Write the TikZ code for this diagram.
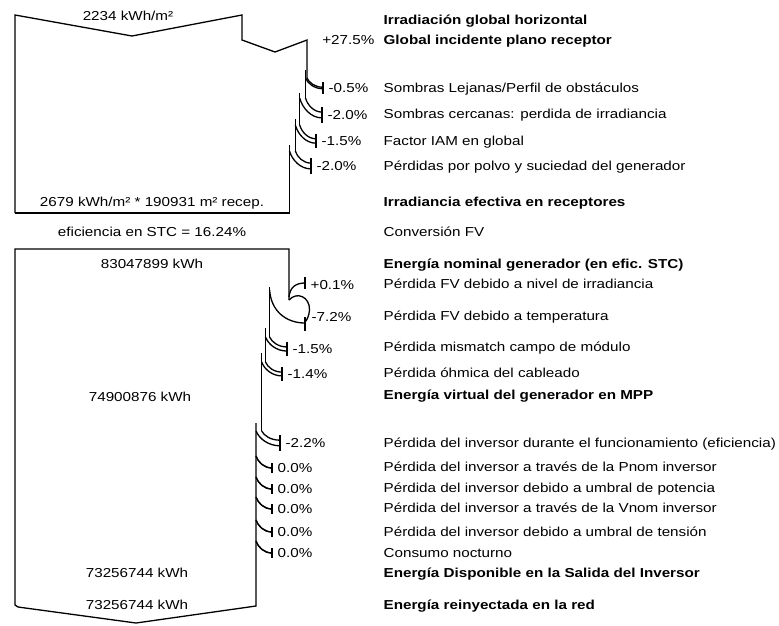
\documentclass[tikz,border=0pt]{standalone}
\usepackage{fontspec}
\setmainfont{Liberation Sans}[FakeStretch=1.17]
\begin{document}
% loss band: old edge x, band width, start y, end x, end y
\newcommand\lossarc[5]{%
  \draw (#1,#3) .. controls ({#1+0.12*(#4-#1)},{#3+0.5*(#5-#2/2-#3)}) and ({#1+0.5*(#4-#1)},{#5-#2/2}) .. (#4,{#5-#2/2});
  \draw ({#1-#2},#3) .. controls ({#1-#2+0.12*(#4-#1+#2)},{#3+0.5*(#5+#2/2-#3)}) and ({#1-#2+0.5*(#4-#1+#2)},{#5+#2/2}) .. (#4,{#5+#2/2});
  \draw (#4,{#5-#2/2-5}) -- (#4,{#5+#2/2+5});
}
\begin{tikzpicture}[x=1pt,y=-1pt,line width=1.3pt,line join=miter,
  txt/.style={inner sep=0pt,text height=9.3pt,text depth=0pt,font=\fontsize{13}{15}\selectfont},
  lbl/.style={txt,anchor=west},
  blbl/.style={txt,anchor=west,font=\fontsize{13}{15}\selectfont\bfseries},
  val/.style={txt,anchor=center},
  pct/.style={txt,anchor=west}]
\useasboundingbox (0,0) rectangle (779,625);

% ---- irradiance section ----
\draw (15,213) -- (15,15) -- (132,36) -- (242,15) -- (242,40) -- (275,52) -- (307,40) -- (307,78);
\draw (305.5,70) -- (305.5,98);
\draw (299.7,93) -- (299.7,125);
\draw (295.3,119) -- (295.3,151);
\draw (289.5,145) -- (289.5,213) -- (15,213);
\lossarc{307}{1.5}{78}{323}{88}
\lossarc{305.5}{5.8}{98}{322}{115}
\lossarc{299.7}{4.4}{125}{316}{141}
\lossarc{295.3}{5.8}{151}{311}{166}

% ---- energy section ----
\draw (289,300) -- (289,249) -- (15,249) -- (15,605) -- (18,607) -- (136,623) -- (256,606) -- (256,423);
% gain from irradiance level
\draw (289,297) .. controls (290,287) and (296,283) .. (305,283);
\draw (305,277) -- (305,289);
% temperature loss
\draw (289,300) .. controls (297,291) and (310,297) .. (309.5,310) .. controls (309,316) and (307,320) .. (305,322);
\draw (269.6,290) .. controls (271,311) and (286,323) .. (305,323);
\draw (305,317) -- (305,331);
\draw (269.6,287) -- (269.6,337);
\draw (265.5,328) -- (265.5,362);
\draw (261.7,353) -- (261.7,431);
\lossarc{269.6}{4.1}{337}{287}{349}
\lossarc{265.5}{3.8}{362}{282}{374}
\lossarc{261.7}{5.6}{431}{280}{443}
\lossarc{256}{0}{456}{272}{468}
\lossarc{256}{0}{477}{272}{489}
\lossarc{256}{0}{497}{272}{509}
\lossarc{256}{0}{520}{272}{532}
\lossarc{256}{0}{541}{272}{553}

% ---- values in the flow ----
\node[val] (v1) at (128,16) {2234 kWh/m²};
\node[val] (v2) at (152,202) {2679 kWh/m² * 190931 m² recep.};
\node[val] (v3) at (152,232) {eficiencia en STC = 16.24\%};
\node[val] (v4) at (152,264) {83047899 kWh};
\node[val] (v5) at (140,397) {74900876 kWh};
\node[val] (v6) at (137,573) {73256744 kWh};
\node[val] (v7) at (137,605) {73256744 kWh};

% ---- percentages ----
\node[txt,anchor=east] (p0) at (375,40) {+27.5\%};
\node[pct] (p1) at (328,88) {-0.5\%};
\node[pct] (p2) at (327,115) {-2.0\%};
\node[pct] (p3) at (321,141) {-1.5\%};
\node[pct] (p4) at (316,166) {-2.0\%};
\node[pct] (p5) at (310,285) {+0.1\%};
\node[pct] (p6) at (311,317) {-7.2\%};
\node[pct] (p7) at (292,349) {-1.5\%};
\node[pct] (p8) at (287,374) {-1.4\%};
\node[pct] (p9) at (285,443) {-2.2\%};
\node[pct] (p10) at (277,468) {0.0\%};
\node[pct] (p11) at (277,489) {0.0\%};
\node[pct] (p12) at (277,509) {0.0\%};
\node[pct] (p13) at (277,532) {0.0\%};
\node[pct] (p14) at (277,553) {0.0\%};

% ---- descriptions ----
\node[blbl] (d1) at (383,20) {Irradiación global horizontal};
\node[blbl] (d2) at (383,40) {Global incidente plano receptor};
\node[lbl] (d3) at (383,88) {Sombras Lejanas/Perfil de obstáculos};
\node[lbl] (d4) at (383,114) {Sombras cercanas: perdida de irradiancia};
\node[lbl] (d5) at (383,141) {Factor IAM en global};
\node[lbl] (d6) at (383,166) {Pérdidas por polvo y suciedad del generador};
\node[blbl] (d7) at (383,202) {Irradiancia efectiva en receptores};
\node[lbl] (d8) at (383,232) {Conversión FV};
\node[blbl] (d9) at (383,264) {Energía nominal generador (en efic. STC)};
\node[lbl] (d10) at (383,284) {Pérdida FV debido a nivel de irradiancia};
\node[lbl] (d11) at (383,316) {Pérdida FV debido a temperatura};
\node[lbl] (d12) at (383,347) {Pérdida mismatch campo de módulo};
\node[lbl] (d13) at (383,373) {Pérdida óhmica del cableado};
\node[blbl] (d14) at (383,395) {Energía virtual del generador en MPP};
\node[lbl] (d15) at (383,443) {Pérdida del inversor durante el funcionamiento (eficiencia)};
\node[lbl] (d16) at (383,467) {Pérdida del inversor a través de la Pnom inversor};
\node[lbl] (d17) at (383,488) {Pérdida del inversor debido a umbral de potencia};
\node[lbl] (d18) at (383,508) {Pérdida del inversor a través de la Vnom inversor};
\node[lbl] (d19) at (383,532) {Pérdida del inversor debido a umbral de tensión};
\node[lbl] (d20) at (383,553) {Consumo nocturno};
\node[blbl] (d21) at (383,573) {Energía Disponible en la Salida del Inversor};
\node[blbl] (d22) at (383,605) {Energía reinyectada en la red};
\end{tikzpicture}
\end{document}
